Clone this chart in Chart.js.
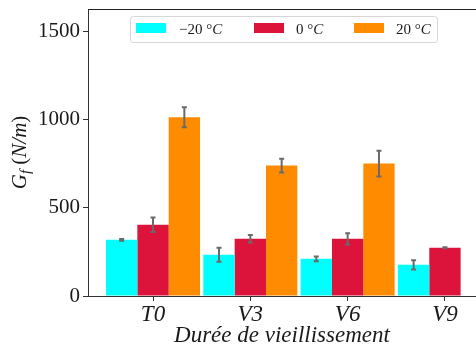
<!DOCTYPE html>
<html><head><meta charset="utf-8">
<script src="https://cdn.jsdelivr.net/npm/chart.js@4.4.0/dist/chart.umd.min.js"></script>
<style>html,body{margin:0;padding:0;background:#fff;overflow:hidden}</style>
</head><body>
<canvas id="c" width="476" height="351"></canvas>
<script>
const categories = ['T0', 'V3', 'V6', 'V9'];
const seriesLabels = ['−20 °C', '0 °C', '20 °C'];
const valsM20 = [319, 234, 211, 177];
const vals0 = [405, 325, 325, 274];
const vals20 = [1015, 741, 752, null];
const errM20 = [5, 40, 13, 26];
const err0 = [41, 21, 32, 3];
const err20 = [57, 39, 73, null];
const yTicks = [0, 500, 1000, 1500];
const yMax = 1630;
const xLabel = 'Durée de vieillissement';

const colors = ['#00FFFF', '#DC143C', '#FF8C00'];
const SERIF = '"Liberation Serif", "DejaVu Serif", serif';
const TXT = '#1a1a1a';

const datasets = [valsM20, vals0, vals20].map((d, i) => ({
  label: seriesLabels[i], data: d, backgroundColor: colors[i], borderWidth: 0,
  errors: [errM20, err0, err20][i]
}));

const custom = {
  id: 'custom',
  afterDatasetsDraw(chart) {
    const ctx = chart.ctx, ys = chart.scales.y;
    ctx.save();
    ctx.strokeStyle = '#6a6a6a'; ctx.lineWidth = 2;
    chart.data.datasets.forEach((ds, i) => {
      const meta = chart.getDatasetMeta(i);
      meta.data.forEach((bar, j) => {
        const v = ds.data[j], e = ds.errors[j];
        if (v == null || e == null) return;
        const x = bar.x, y1 = ys.getPixelForValue(v - e), y2 = ys.getPixelForValue(v + e);
        ctx.beginPath();
        ctx.moveTo(x, y1); ctx.lineTo(x, y2);
        ctx.moveTo(x - 2.5, y1); ctx.lineTo(x + 2.5, y1);
        ctx.moveTo(x - 2.5, y2); ctx.lineTo(x + 2.5, y2);
        ctx.stroke();
      });
    });
    ctx.restore();
  },
  afterDraw(chart) {
    const ctx = chart.ctx, a = chart.chartArea;
    ctx.save();
    // top frame
    ctx.strokeStyle = '#222'; ctx.lineWidth = 1;
    ctx.beginPath(); ctx.moveTo(a.left, a.top + 0.5); ctx.lineTo(a.right, a.top + 0.5); ctx.stroke();
    // legend
    const lx = 130.5, ly = 16.5, lw = 307, lh = 26;
    ctx.fillStyle = 'rgba(255,255,255,0.8)';
    ctx.strokeStyle = '#d6d6d6';
    ctx.beginPath(); ctx.roundRect(lx, ly, lw, lh, 3); ctx.fill(); ctx.stroke();
    const sx = [136, 254, 354], tx = [179, 296, 396];
    chart.data.datasets.forEach((ds, i) => {
      ctx.fillStyle = ds.backgroundColor;
      ctx.fillRect(sx[i], 23, 30, 10);
      const lab = ds.label, main = lab.slice(0, -1), last = lab.slice(-1);
      ctx.fillStyle = TXT; ctx.textBaseline = 'alphabetic'; ctx.textAlign = 'left';
      ctx.font = '15px ' + SERIF;
      ctx.fillText(main, tx[i], 34);
      const w = ctx.measureText(main).width;
      ctx.font = 'italic 15px ' + SERIF;
      ctx.fillText(last, tx[i] + w, 34);
    });
    // y title G_f (N/m)
    const parts = [['G', 'italic 21px', 0], ['f', 'italic 15px', 4], [' (', '21px', 0], ['N/m', 'italic 21px', 0], [')', '21px', 0]];
    let total = 0;
    parts.forEach(p => { ctx.font = p[1] + ' ' + SERIF; p.w = ctx.measureText(p[0]).width; total += p.w; });
    ctx.translate(26, (a.top + a.bottom) / 2);
    ctx.rotate(-Math.PI / 2);
    ctx.fillStyle = TXT; ctx.textAlign = 'left'; ctx.textBaseline = 'alphabetic';
    let px = -total / 2;
    parts.forEach(p => { ctx.font = p[1] + ' ' + SERIF; ctx.fillText(p[0], px, p[2]); px += p.w; });
    ctx.restore();
  }
};

new Chart(document.getElementById('c'), {
  type: 'bar',
  data: { labels: categories, datasets },
  options: {
    responsive: false, animation: false,
    layout: { padding: { top: 9, right: 0, left: 0, bottom: 0 } },
    datasets: { bar: { categoryPercentage: 0.966, barPercentage: 1.0 } },
    plugins: { legend: { display: false }, tooltip: { enabled: false } },
    scales: {
      x: {
        offset: true,
        grid: { offset: false, drawOnChartArea: false, drawTicks: true, tickLength: 5, color: '#333' },
        border: { color: '#333', width: 1 },
        ticks: { color: TXT, font: { family: SERIF, size: 23, style: 'italic' }, padding: 0, maxRotation: 0 },
        title: { display: true, text: xLabel, color: TXT, font: { family: SERIF, size: 23, style: 'italic' }, padding: { top: 0, bottom: 1 } },
        afterBuildTicks: s => { s._startValue = -0.668; s._valueRange = 3.987; },
        afterFit: s => { s.height = 55; s.paddingLeft = 0; s.paddingRight = 0; }
      },
      y: {
        min: 0, max: yMax,
        afterBuildTicks: s => { s.ticks = yTicks.map(v => ({ value: v })); },
        grid: { drawOnChartArea: false, drawTicks: true, tickLength: 5, color: '#333' },
        border: { color: '#333', width: 1 },
        ticks: { color: TXT, font: { family: SERIF, size: 21 }, padding: 3, callback: v => String(v) },
        afterFit: s => { s.width = 88; s.paddingTop = 0; s.paddingBottom = 0; }
      }
    }
  },
  plugins: [custom]
});
</script>
</body></html>
